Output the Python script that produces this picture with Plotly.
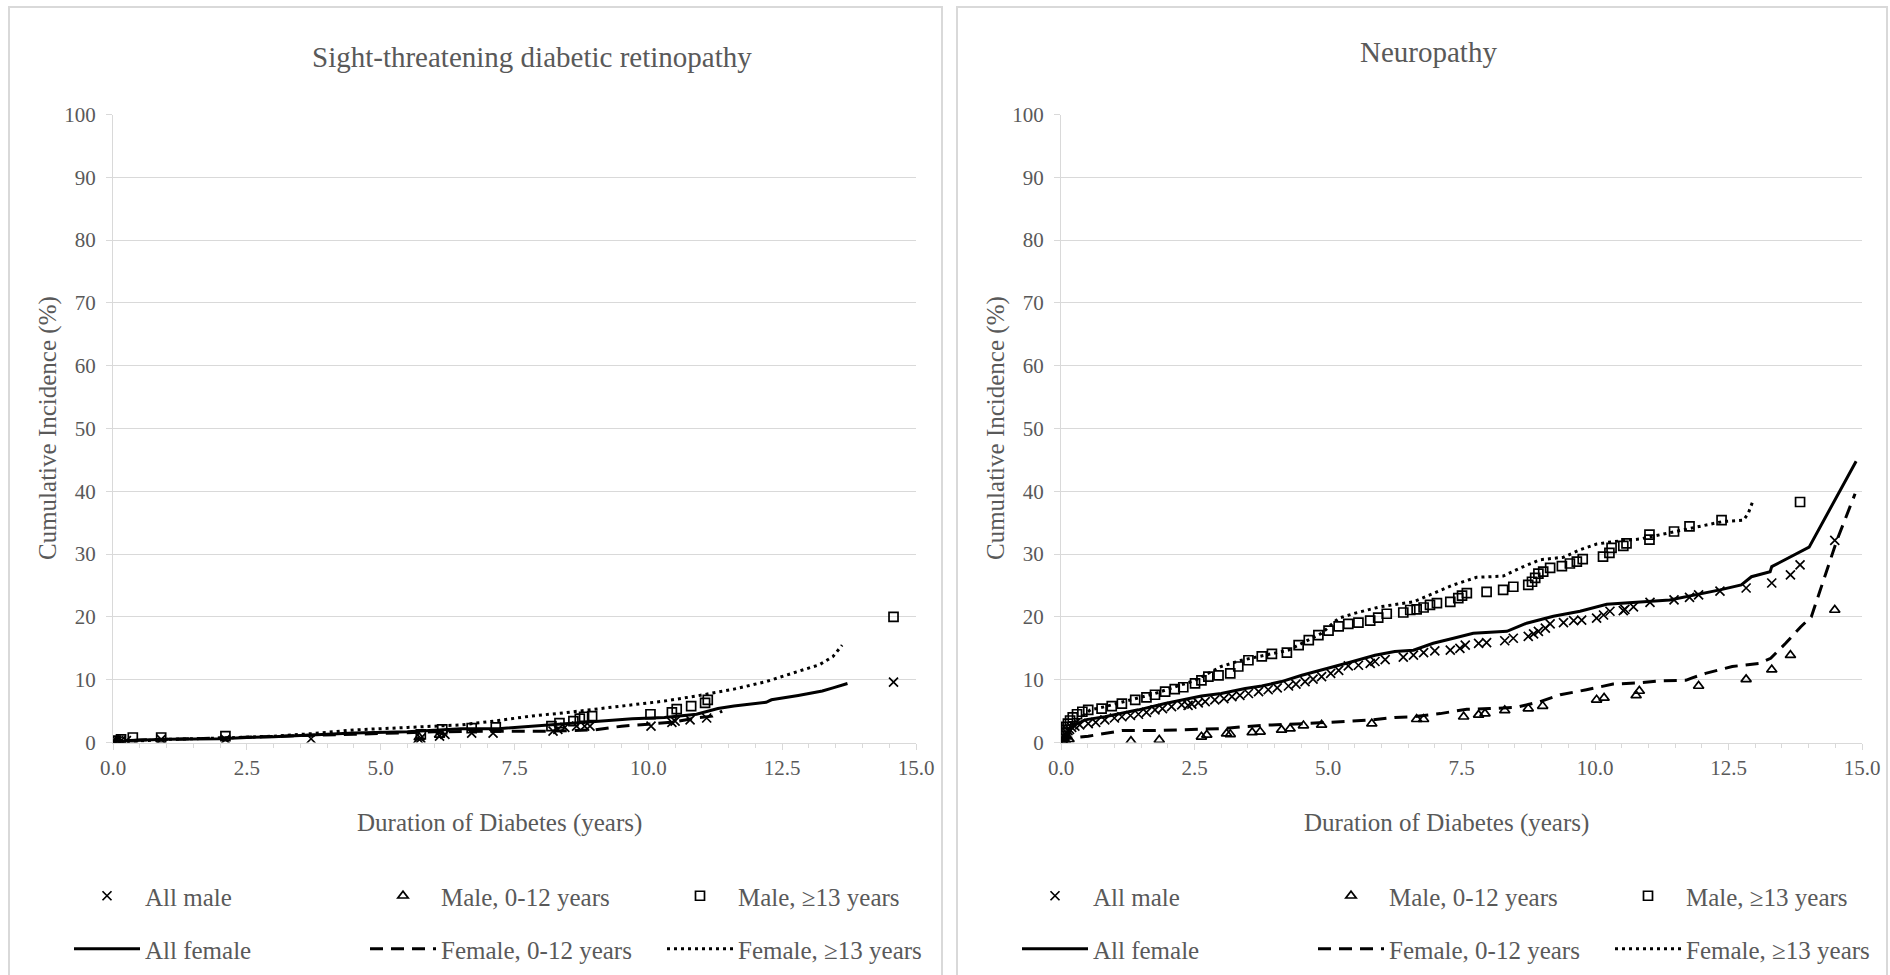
import plotly.graph_objects as go

# ---------------- Data: Sight-threatening diabetic retinopathy ----------------
stdr_f_all_x = [0, 0.3, 1.0, 2.0, 2.5, 3.0, 3.7, 4.5, 5.5, 6.0, 6.5, 7.2, 7.8, 8.4, 9.1, 9.7, 10.3, 10.9, 11.3, 11.6, 12.2, 12.3, 12.8, 13.25, 13.45, 13.72]
stdr_f_all_y = [0, 0.3, 0.5, 0.6, 0.8, 0.9, 1.2, 1.5, 1.7, 2.0, 2.2, 2.2, 2.6, 2.9, 3.4, 3.8, 4.0, 4.5, 5.4, 5.8, 6.4, 6.8, 7.5, 8.2, 8.7, 9.4]
stdr_f_young_x = [0, 0.5, 1.5, 2.5, 3.5, 4.5, 5.5, 6.0, 7.2, 8.1, 9.0, 9.5, 10.0, 10.5, 10.9, 11.2, 11.38]
stdr_f_young_y = [0, 0.4, 0.6, 0.9, 1.1, 1.3, 1.5, 1.7, 1.8, 1.8, 2.0, 2.6, 2.9, 3.3, 3.9, 4.2, 5.0]
stdr_f_old_x = [0, 1.0, 2.0, 3.0, 3.7, 4.5, 5.5, 6.5, 7.2, 7.8, 8.4, 9.1, 9.7, 10.3, 10.9, 11.6, 12.2, 12.6, 12.9, 13.2, 13.45, 13.62]
stdr_f_old_y = [0, 0.5, 0.7, 1.0, 1.4, 2.0, 2.4, 2.8, 3.5, 4.2, 4.7, 5.4, 6.1, 6.6, 7.4, 8.5, 9.7, 10.8, 11.6, 12.4, 13.7, 15.5]
stdr_m_all_x = [0.03, 0.08, 0.15, 0.25, 0.9, 2.1, 3.7, 5.75, 6.1, 6.2, 6.7, 7.1, 8.22, 8.31, 8.44, 8.66, 8.81, 8.91, 10.05, 10.44, 10.5, 10.78, 11.09, 14.58]
stdr_m_all_y = [0.1, 0.2, 0.3, 0.3, 0.5, 0.5, 0.6, 0.7, 1.0, 1.3, 1.5, 1.5, 1.8, 2.1, 2.4, 2.6, 2.6, 2.6, 2.6, 3.2, 3.4, 3.6, 3.9, 9.6]
stdr_m_young_x = [0.05, 0.1, 5.7, 5.72, 6.1]
stdr_m_young_y = [0.1, 0.3, 0.1, 0.8, 1.2]
stdr_m_old_x = [0.05, 0.15, 0.37, 0.9, 2.1, 5.75, 6.15, 6.7, 7.15, 8.19, 8.34, 8.6, 8.72, 8.8, 8.95, 10.04, 10.44, 10.53, 10.8, 11.06, 11.11, 14.58]
stdr_m_old_y = [0.3, 0.5, 0.8, 0.8, 1.0, 1.3, 2.1, 2.3, 2.4, 2.6, 3.1, 3.4, 3.8, 4.1, 4.2, 4.5, 4.8, 5.3, 5.8, 6.3, 6.8, 20.0]

# ---------------- Data: Neuropathy ----------------
neuro_f_all_x = [0, 0.1, 0.26, 0.45, 0.82, 1.45, 1.95, 2.38, 2.63, 3.0, 3.45, 3.76, 4.13, 4.51, 4.88, 5.38, 5.88, 6.25, 6.6, 6.97, 7.35, 7.72, 8.35, 8.72, 9.22, 9.72, 10.22, 10.72, 11.4, 12.34, 12.74, 12.93, 13.28, 13.31, 14.01, 14.89]
neuro_f_all_y = [0, 1.5, 2.8, 3.6, 4.1, 5.2, 6.2, 6.9, 7.4, 7.8, 8.6, 9.0, 9.7, 10.7, 11.6, 12.7, 13.9, 14.5, 14.7, 15.8, 16.6, 17.4, 17.7, 19.0, 20.1, 20.9, 22.0, 22.3, 22.7, 24.3, 25.1, 26.4, 27.2, 28.0, 31.1, 44.8]
neuro_f_young_x = [0, 0.07, 0.51, 1.14, 1.76, 2.38, 3.0, 3.38, 3.95, 4.57, 5.2, 5.82, 6.25, 6.6, 7.1, 7.6, 8.03, 8.53, 8.97, 9.35, 9.84, 10.34, 10.84, 11.2, 11.7, 11.82, 12.07, 12.57, 13.07, 13.29, 13.57, 13.85, 14.05, 14.2, 14.53, 14.87]
neuro_f_young_y = [0, 0.6, 1.0, 1.9, 1.9, 2.1, 2.2, 2.5, 2.8, 3.0, 3.3, 3.6, 4.0, 4.1, 4.6, 5.3, 5.4, 5.6, 6.5, 7.6, 8.4, 9.3, 9.5, 9.8, 9.9, 10.3, 11.0, 12.1, 12.6, 13.4, 15.8, 18.4, 20.0, 23.7, 32.2, 39.6]
neuro_f_old_x = [0, 0.1, 0.3, 0.55, 0.82, 1.76, 2.51, 3.0, 3.38, 4.26, 4.88, 5.2, 5.51, 5.97, 6.6, 6.91, 7.35, 7.78, 8.28, 8.6, 8.97, 9.41, 9.72, 10.03, 10.35, 10.84, 11.07, 11.5, 12.0, 12.4, 12.78, 12.87, 12.95]
neuro_f_old_y = [0, 2.0, 3.5, 5.2, 5.7, 7.8, 9.9, 12.1, 13.1, 14.7, 17.4, 19.8, 20.6, 21.6, 22.4, 23.5, 25.1, 26.3, 26.5, 27.8, 29.1, 29.5, 30.7, 31.6, 32.0, 32.4, 32.8, 33.6, 34.5, 35.2, 35.4, 36.5, 38.3]
neuro_m_all_x = [0.02, 0.04, 0.06, 0.08, 0.1, 0.13, 0.16, 0.2, 0.26, 0.35, 0.51, 0.65, 0.82, 1.0, 1.14, 1.3, 1.45, 1.6, 1.76, 1.9, 2.07, 2.26, 2.38, 2.45, 2.57, 2.7, 2.88, 3.05, 3.2, 3.35, 3.51, 3.7, 3.88, 4.05, 4.26, 4.4, 4.57, 4.72, 4.88, 5.05, 5.2, 5.38, 5.57, 5.79, 5.88, 6.07, 6.41, 6.6, 6.79, 7.0, 7.29, 7.47, 7.57, 7.82, 7.97, 8.31, 8.47, 8.75, 8.85, 8.94, 9.07, 9.16, 9.41, 9.6, 9.75, 10.03, 10.16, 10.28, 10.53, 10.56, 10.72, 11.03, 11.48, 11.77, 11.94, 12.34, 12.83, 13.31, 13.66, 13.84, 14.49]
neuro_m_all_y = [0.3, 0.6, 1.0, 1.3, 1.6, 1.9, 2.1, 2.4, 2.6, 2.8, 3.0, 3.2, 3.6, 3.9, 4.1, 4.3, 4.5, 4.8, 5.2, 5.4, 5.7, 6.0, 5.9, 6.1, 6.3, 6.5, 6.8, 7.0, 7.3, 7.5, 7.8, 8.1, 8.4, 8.7, 9.0, 9.3, 9.7, 10.1, 10.5, 11.0, 11.5, 12.2, 12.3, 12.6, 12.9, 13.2, 13.6, 13.9, 14.3, 14.6, 14.7, 15.0, 15.5, 15.8, 15.9, 16.2, 16.6, 16.9, 17.3, 17.7, 18.2, 18.9, 19.1, 19.4, 19.5, 19.8, 20.3, 20.9, 21.0, 21.2, 21.6, 22.3, 22.7, 23.1, 23.5, 24.1, 24.6, 25.4, 26.7, 28.3, 32.2]
neuro_m_young_x = [0.03, 0.08, 0.15, 1.31, 1.84, 2.63, 2.73, 3.1, 3.17, 3.58, 3.73, 4.13, 4.29, 4.54, 4.88, 5.82, 6.66, 6.79, 7.54, 7.82, 7.94, 8.31, 8.75, 9.02, 10.03, 10.17, 10.77, 10.83, 11.94, 12.83, 13.31, 13.66, 14.49]
neuro_m_young_y = [0.1, 0.3, 0.5, 0.2, 0.4, 0.9, 1.2, 1.4, 1.3, 1.6, 1.7, 2.0, 2.2, 2.7, 2.8, 3.0, 3.7, 3.7, 4.1, 4.4, 4.6, 5.1, 5.4, 5.8, 6.8, 7.1, 7.5, 8.2, 9.0, 10.05, 11.6, 13.9, 21.1]
neuro_m_old_x = [0.02, 0.04, 0.06, 0.08, 0.1, 0.13, 0.17, 0.22, 0.3, 0.4, 0.51, 0.76, 0.95, 1.14, 1.39, 1.6, 1.76, 1.95, 2.13, 2.29, 2.51, 2.63, 2.76, 2.95, 3.17, 3.32, 3.51, 3.76, 3.95, 4.23, 4.45, 4.64, 4.82, 5.01, 5.2, 5.38, 5.57, 5.79, 5.94, 6.1, 6.41, 6.54, 6.66, 6.79, 6.91, 7.04, 7.29, 7.44, 7.51, 7.6, 7.97, 8.28, 8.47, 8.75, 8.82, 8.88, 8.94, 9.03, 9.16, 9.38, 9.53, 9.66, 9.77, 10.15, 10.27, 10.31, 10.53, 10.59, 11.02, 11.02, 11.48, 11.77, 12.37, 13.84]
neuro_m_old_y = [0.5, 1.0, 1.5, 2.0, 2.5, 3.0, 3.5, 4.0, 4.5, 4.9, 5.2, 5.4, 5.8, 6.2, 6.8, 7.2, 7.6, 8.1, 8.5, 8.8, 9.4, 9.9, 10.5, 10.7, 11.0, 12.1, 13.1, 13.7, 14.1, 14.3, 15.5, 16.3, 17.1, 17.8, 18.5, 18.9, 19.1, 19.4, 19.9, 20.5, 20.7, 21.1, 21.2, 21.5, 21.9, 22.2, 22.4, 23.0, 23.4, 23.8, 24.0, 24.3, 24.8, 25.1, 25.6, 26.2, 26.9, 27.2, 27.8, 28.1, 28.5, 28.8, 29.2, 29.6, 30.2, 31.0, 31.3, 31.7, 32.3, 33.1, 33.6, 34.4, 35.4, 38.3]

panel_titles = ["Sight-threatening diabetic retinopathy", "Neuropathy"]
series_names = ["All male", "Male, 0-12 years", "Male, \u226513 years",
                "All female", "Female, 0-12 years", "Female, \u226513 years"]
x_title = "Duration of Diabetes (years)"
y_title = "Cumulative Incidence (%)"

W, H = 1890, 975
FONT = "Liberation Serif, Times New Roman, serif"
GRAY = "#595959"
GRID = "#d9d9d9"


def px_x(p):
    return p / W


def px_y(p):
    return 1 - p / H


panels = [
    dict(m=[(stdr_m_all_x, stdr_m_all_y), (stdr_m_young_x, stdr_m_young_y), (stdr_m_old_x, stdr_m_old_y)],
         f=[(stdr_f_all_x, stdr_f_all_y), (stdr_f_young_x, stdr_f_young_y), (stdr_f_old_x, stdr_f_old_y)]),
    dict(m=[(neuro_m_all_x, neuro_m_all_y), (neuro_m_young_x, neuro_m_young_y), (neuro_m_old_x, neuro_m_old_y)],
         f=[(neuro_f_all_x, neuro_f_all_y), (neuro_f_young_x, neuro_f_young_y), (neuro_f_old_x, neuro_f_old_y)]),
]

symbols = ["x-thin", "triangle-up-open", "square-open"]
msizes = [9, 9, 9]
dashes = ["solid", "13px,8px", "3px,4px"]
# legend: symbol area 66 px, text columns every ~296 px (last column sized to its text)
ITEMW = 66
col_widths = [215, 216, None]
legend_x = [69, 1017]

fig = go.Figure()
for i, p in enumerate(panels):
    xa = "x" if i == 0 else "x2"
    ya = "y" if i == 0 else "y2"
    lg1 = "legend" if i == 0 else "legend3"
    lg2 = "legend2" if i == 0 else "legend4"
    for j, (xs, ys) in enumerate(p["m"]):
        fig.add_trace(go.Scatter(
            x=xs, y=ys, mode="markers", name=series_names[j], xaxis=xa, yaxis=ya,
            legend=lg1, legendwidth=col_widths[j],
            marker=dict(symbol=symbols[j], size=msizes[j], color="black",
                        line=dict(color="black", width=1.7)),
            hoverinfo="x+y+name"))
    for j, (xs, ys) in enumerate(p["f"]):
        fig.add_trace(go.Scatter(
            x=xs, y=ys, mode="lines", name=series_names[3 + j], xaxis=xa, yaxis=ya,
            legend=lg2, legendwidth=col_widths[j],
            line=dict(color="black", width=3, dash=dashes[j]),
            hoverinfo="x+y+name"))

axis_common = dict(
    showgrid=False, showline=True, linecolor=GRID, linewidth=1,
    ticks="outside", ticklen=6, tickcolor=GRID, tickwidth=1,
    tickfont=dict(family=FONT, size=21, color=GRAY), zeroline=False,
)
xcommon = dict(axis_common, range=[0, 15], tick0=0, dtick=2.5, tickformat=".1f",
               minor=dict(dtick=0.5, ticks="outside", ticklen=4, tickcolor=GRID, showgrid=False))
ycommon = dict(axis_common, range=[0, 100], dtick=10, showgrid=True, gridcolor=GRID, gridwidth=1,
               ticklabelstandoff=6)

left_dom = [px_x(113), px_x(916)]
right_dom = [px_x(1061), px_x(1862)]
ydom = [px_y(742.5), px_y(114.5)]

fig.update_layout(
    width=W, height=H, margin=dict(l=0, r=0, t=0, b=0, autoexpand=False),
    paper_bgcolor="white", plot_bgcolor="white",
    font=dict(family=FONT, color=GRAY),
    xaxis=dict(xcommon, domain=left_dom, anchor="y"),
    yaxis=dict(ycommon, domain=ydom, anchor="x"),
    xaxis2=dict(xcommon, domain=right_dom, anchor="y2"),
    yaxis2=dict(ycommon, domain=ydom, anchor="x2"),
)

leg_common = dict(orientation="h", xanchor="left", yanchor="middle", bgcolor="rgba(0,0,0,0)",
                  font=dict(family=FONT, size=25, color=GRAY), itemwidth=ITEMW, tracegroupgap=0)
fig.update_layout(
    legend=dict(leg_common, x=px_x(legend_x[0]), y=px_y(896)),
    legend2=dict(leg_common, x=px_x(legend_x[0]), y=px_y(949)),
    legend3=dict(leg_common, x=px_x(legend_x[1]), y=px_y(896)),
    legend4=dict(leg_common, x=px_x(legend_x[1]), y=px_y(949)),
)

annotations = []
title_pos = [(532, 57), (1428, 52)]
ytitle_x = [48, 996]
xtitle_x = [499, 1446]
for i in range(2):
    annotations.append(dict(text=panel_titles[i], x=px_x(title_pos[i][0]), y=px_y(title_pos[i][1]),
                            xref="paper", yref="paper", showarrow=False, xanchor="center", yanchor="middle",
                            font=dict(family=FONT, size=29, color=GRAY)))
    annotations.append(dict(text=x_title, x=px_x(xtitle_x[i]), y=px_y(823),
                            xref="paper", yref="paper", showarrow=False, xanchor="center", yanchor="middle",
                            font=dict(family=FONT, size=25, color=GRAY)))
    annotations.append(dict(text=y_title, x=px_x(ytitle_x[i]), y=px_y(428),
                            xref="paper", yref="paper", showarrow=False, xanchor="center", yanchor="middle",
                            textangle=-90, font=dict(family=FONT, size=25, color=GRAY)))
fig.update_layout(annotations=annotations)

shapes = [
    dict(type="rect", xref="paper", yref="paper", x0=px_x(9), x1=px_x(942), y0=px_y(1000), y1=px_y(7),
         line=dict(color=GRID, width=2), layer="below"),
    dict(type="rect", xref="paper", yref="paper", x0=px_x(957), x1=px_x(1887), y0=px_y(1000), y1=px_y(7),
         line=dict(color=GRID, width=2), layer="below"),
]
fig.update_layout(shapes=shapes)

fig.write_html("out.html", config={"displayModeBar": False},
               post_script="document.body.style.margin='0';document.body.style.overflow='hidden';")
